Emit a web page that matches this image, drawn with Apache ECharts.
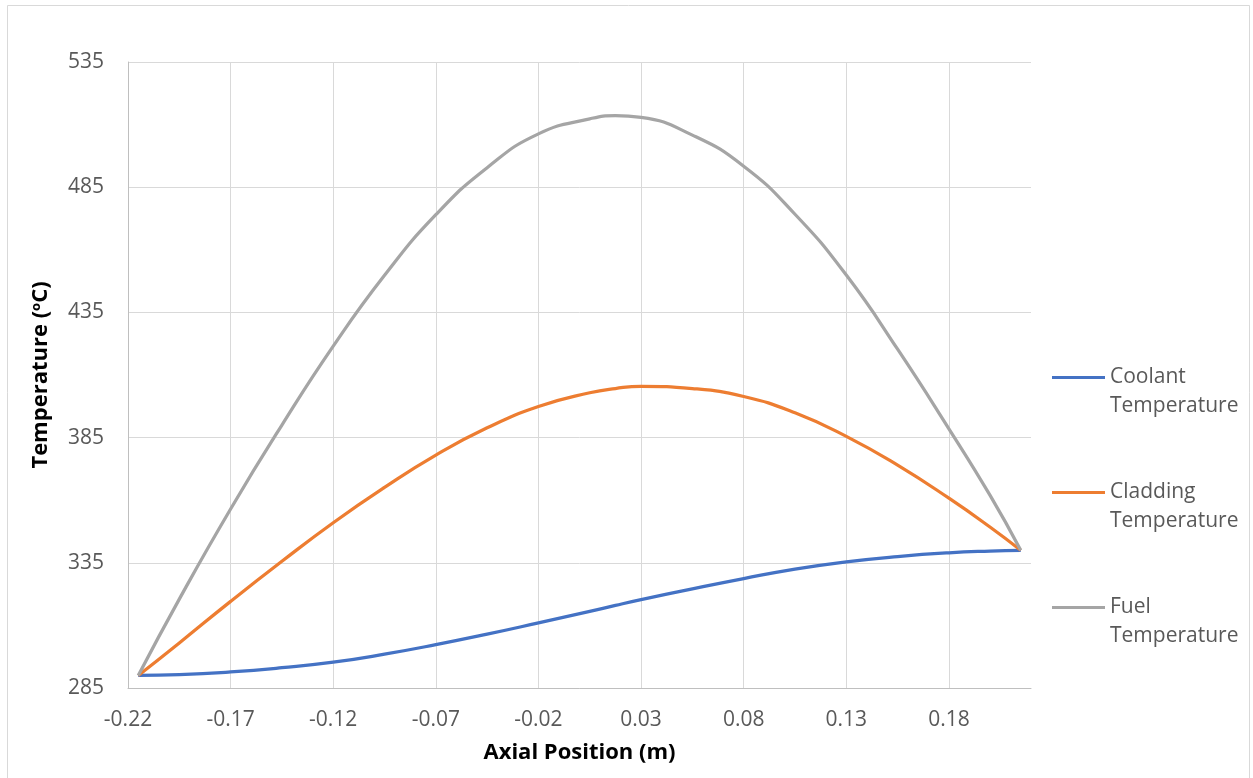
<!DOCTYPE html>
<html>
<head>
<meta charset="utf-8">
<style>
  html, body { margin: 0; padding: 0; background: #ffffff; }
  #chart { width: 1253px; height: 778px; }
</style>
<script src="https://cdn.jsdelivr.net/npm/echarts@6/dist/echarts.min.js"></script>
</head>
<body>
<div id="chart"></div>
<script>
// Axial positions along the fuel rod (m)
const axialPosition = [-0.215, -0.195, -0.17, -0.145, -0.12, -0.095, -0.07, -0.045, -0.02, 0.005, 0.0175, 0.03, 0.055, 0.08, 0.105, 0.13, 0.155, 0.18, 0.2, 0.215];

// Temperatures (°C) at each axial position
const coolantTemp  = [290.0, 290.3, 291.4, 293.1, 295.3, 298.5, 302.3, 306.5, 311.0, 315.6, 318.0, 320.3, 324.6, 328.7, 332.5, 335.4, 337.5, 339.0, 339.7, 340.0];
const claddingTemp = [290.0, 303.0, 319.6, 335.6, 351.0, 365.1, 378.0, 388.9, 397.4, 402.9, 404.6, 405.5, 404.6, 401.4, 394.9, 385.5, 374.0, 360.8, 349.3, 340.0];
const fuelTemp     = [290.0, 320.5, 356.5, 390.0, 421.5, 449.8, 474.0, 492.8, 506.3, 512.3, 513.6, 512.9, 505.8, 493.4, 474.2, 449.9, 420.3, 388.5, 362.0, 340.0];

const seriesNames = ['Coolant Temperature', 'Cladding Temperature', 'Fuel Temperature'];
const seriesColors = ['#4472C4', '#ED7D31', '#A5A5A5'];

const toPairs = (vals) => axialPosition.map((x, i) => [x, vals[i]]);

const FONT = '"Open Sans", "Liberation Sans", sans-serif';

const chart = echarts.init(document.getElementById('chart'), null, { renderer: 'canvas' });

chart.setOption({
  backgroundColor: '#ffffff',
  animation: false,
  textStyle: { fontFamily: FONT },
  graphic: [{
    type: 'rect',
    shape: { x: 7.5, y: 5.5, width: 1242, height: 790 },
    style: { fill: 'none', stroke: '#D9D9D9', lineWidth: 1 },
    silent: true
  }],
  grid: { left: 128, right: 222, top: 62, bottom: 90, containLabel: false },
  legend: {
    orient: 'vertical',
    left: 1047,
    top: 329,
    icon: 'rect',
    itemWidth: 53,
    itemHeight: 3,
    itemGap: 28,
    data: seriesNames,
    // name wraps after the first word; a leading blank line keeps the
    // key line level with the first word
    formatter: (name) => ' \n' + name.replace(' ', '\n'),
    textStyle: {
      fontFamily: FONT,
      fontSize: 21,
      color: '#595959',
      lineHeight: 29
    }
  },
  xAxis: {
    type: 'value',
    min: -0.22,
    max: 0.22,
    interval: 0.05,
    name: 'Axial Position (m)',
    nameLocation: 'middle',
    nameGap: 54,
    nameTextStyle: { fontFamily: FONT, fontSize: 22, fontWeight: 'bold', color: '#000000' },
    axisLine: { show: true, onZero: false, lineStyle: { color: '#BFBFBF', width: 1 } },
    axisTick: { show: false },
    axisLabel: {
      showMaxLabel: false,
      margin: 22,
      fontFamily: FONT,
      fontSize: 21,
      color: '#595959',
      formatter: (v) => v.toFixed(2)
    },
    splitLine: { show: true, showMaxLine: false, lineStyle: { color: '#D9D9D9', width: 1 } }
  },
  yAxis: {
    type: 'value',
    min: 285,
    max: 535,
    interval: 50,
    name: 'Temperature ({sup|o}C)',
    nameLocation: 'middle',
    nameRotate: 90,
    nameGap: 76,
    nameTextStyle: {
      fontFamily: FONT,
      fontSize: 22,
      fontWeight: 'bold',
      color: '#000000',
      rich: {
        sup: { fontFamily: FONT, fontSize: 13, fontWeight: 'bold', color: '#000000', verticalAlign: 'top' }
      }
    },
    axisLine: { show: true, onZero: false, lineStyle: { color: '#BFBFBF', width: 1 } },
    axisTick: { show: false },
    axisLabel: { margin: 24, fontFamily: FONT, fontSize: 21, color: '#595959' },
    splitLine: { show: true, lineStyle: { color: '#D9D9D9', width: 1 } }
  },
  series: [coolantTemp, claddingTemp, fuelTemp].map((vals, i) => ({
    name: seriesNames[i],
    type: 'line',
    data: toPairs(vals),
    smooth: 0.5,
    symbol: 'none',
    lineStyle: { color: seriesColors[i], width: 3.25 },
    itemStyle: { color: seriesColors[i] },
    z: 3 + i
  }))
});
</script>
</body>
</html>
